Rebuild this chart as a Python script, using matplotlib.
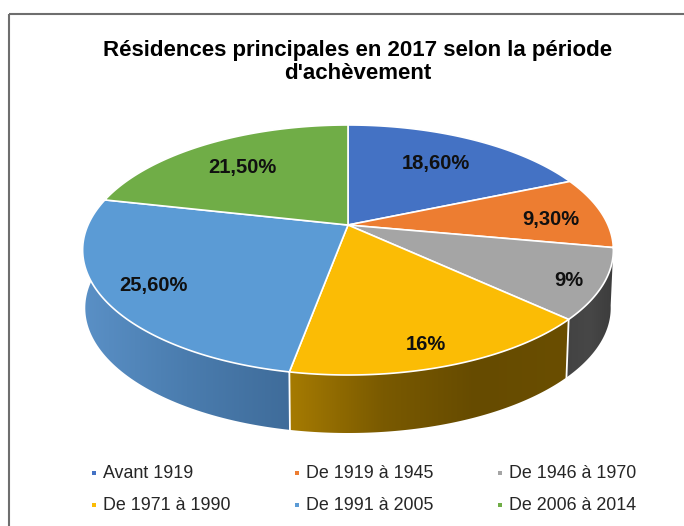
import numpy as np
import matplotlib
matplotlib.use('Agg')
import matplotlib.pyplot as plt
from matplotlib.patches import Polygon, Rectangle
from matplotlib.colors import LinearSegmentedColormap

plt.rcParams['font.family'] = ['Liberation Sans', 'DejaVu Sans']

title = "Résidences principales en 2017 selon la période\nd'achèvement"
categories = ['Avant 1919', 'De 1919 à 1945', 'De 1946 à 1970',
              'De 1971 à 1990', 'De 1991 à 2005', 'De 2006 à 2014']
values = [18.6, 9.3, 9, 16, 25.6, 21.5]
labels = ['18,60%', '9,30%', '9%', '16%', '25,60%', '21,50%']
colors = ['#4472c4', '#ed7d31', '#a5a5a5', '#fbbc05', '#5b9bd5', '#70ad47']
# left to right colours of the visible side walls
side_colors = {2: ['#434343', '#474747', '#3c3c3c'],
               3: ['#a67b02', '#7a5a00', '#664b00', '#6a4e00'],
               4: ['#5a90c6', '#4a7cae', '#3f6c9a']}

# pie geometry in picture pixels
CX, CY = 348, 225
RX, RY = 260, 120
K = 0.2
DEPTH = 58


def project(theta, r=1.0, drop=0, shrink=1.0):
    # theta runs clockwise from 12 o'clock, perspective tilt through K
    x = r * np.sin(theta)
    y = r * np.cos(theta)
    w = 1 + K * y
    return CX + shrink * RX * x / w, CY - RY * y / w + drop


fig = plt.figure(figsize=(6.84, 5.26), dpi=100)
ax = fig.add_axes([0, 0, 1, 1])

edges = np.cumsum([0] + values) / sum(values) * 2 * np.pi

# side walls first
for i in range(len(values)):
    if i not in side_colors:
        continue
    t = np.linspace(edges[i], edges[i + 1], 80)
    x1, y1 = project(t)
    x2, y2 = project(t, drop=DEPTH, shrink=0.99)
    pts = np.column_stack([np.r_[x1, x2[::-1]], np.r_[y1, y2[::-1]]])
    poly = Polygon(pts, closed=True, facecolor='none', edgecolor='none')
    ax.add_patch(poly)
    cmap = LinearSegmentedColormap.from_list('side', side_colors[i])
    grad = np.linspace(0, 1, 256).reshape(1, -1)
    im = ax.imshow(grad, cmap=cmap, aspect='auto', zorder=1,
                   extent=[pts[:, 0].min(), pts[:, 0].max(), pts[:, 1].max(), pts[:, 1].min()])
    im.set_clip_path(poly)

# seams between the walls
for i in [3, 4]:
    x1, y1 = project(edges[i])
    x2, y2 = project(edges[i], drop=DEPTH, shrink=0.99)
    ax.plot([x1, x2], [y1, y2], color='white', lw=1.3, zorder=2)

# top face
for i, val in enumerate(values):
    t = np.linspace(edges[i], edges[i + 1], 120)
    x1, y1 = project(t)
    pts = np.column_stack([np.r_[CX, x1], np.r_[CY, y1]])
    ax.add_patch(Polygon(pts, closed=True, facecolor=colors[i], edgecolor='white', lw=1.2, zorder=3))

# data labels
label_pos = [(436, 164), (551, 220), (569, 280), (426, 344), (153, 285), (242, 167)]
for lab, (lx, ly) in zip(labels, label_pos):
    ax.text(lx, ly, lab, ha='center', va='center', fontsize=14.5, fontweight='bold',
            color='#101010', zorder=5)

ax.text(358, 62, title, ha='center', va='center', fontsize=16, fontweight='bold',
        color='black', linespacing=1.08)

# legend, three columns over two rows
legend_x = [94, 297, 500]
legend_y = [473, 505]
for i, cat in enumerate(categories):
    lx = legend_x[i % 3]
    ly = legend_y[i // 3]
    ax.plot([lx], [ly], marker='s', ms=2.2, mew=0, color=colors[i], ls='none', zorder=4)
    ax.text(lx + 9, ly, cat, ha='left', va='center', fontsize=12.9, color='#262626')

# chart frame
ax.add_patch(Rectangle((8.5, 14), 720, 600, facecolor='none', edgecolor='#6e6e6e', lw=1.5, zorder=0))

ax.set_xlim(0, 684)
ax.set_ylim(526, 0)
ax.axis('off')

plt.savefig('out.png', dpi=100)
